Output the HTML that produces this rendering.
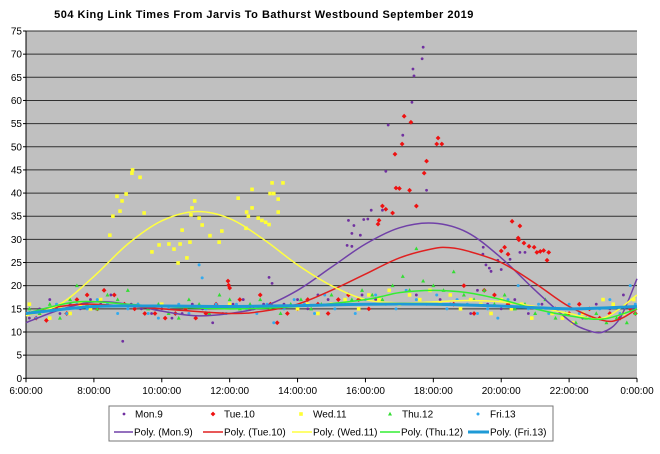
<!DOCTYPE html>
<html><head><meta charset="utf-8">
<style>
html,body{margin:0;padding:0;background:#fff;}
body{width:660px;height:449px;overflow:hidden;font-family:"Liberation Sans",Arial,sans-serif;}
svg text{font-family:"Liberation Sans",Arial,sans-serif;}
</style></head>
<body>
<svg id="chart" width="660" height="449" xmlns="http://www.w3.org/2000/svg">
<text x="264" y="18" text-anchor="middle" font-size="11" font-weight="bold" fill="#000" letter-spacing="0.5">504 King Link Times From Jarvis To Bathurst Westbound September 2019</text>
<rect x="26" y="31" width="611" height="347" fill="#c0c0c0"/>
<g id="grid"></g>
<g id="yaxis"></g>
<g id="xaxis"></g>
<g id="points"></g>
<g id="trends"></g>
<g>
<rect x="109" y="406" width="444" height="35" fill="#fff" stroke="#777" stroke-width="1"/>
<g id="legend"></g>
</g>
</svg>
<script>
const yTicks=[0,5,10,15,20,25,30,35,40,45,50,55,60,65,70,75];
const xTicks=[6,8,10,12,14,16,18,20,22,24];
const xTickLabels=["6:00:00","8:00:00","10:00:00","12:00:00","14:00:00","16:00:00","18:00:00","20:00:00","22:00:00","0:00:00"];
const seriesNames=["Mon.9","Tue.10","Wed.11","Thu.12","Fri.13"];

const monPts=[[6.1,13],[6.4,15],[6.7,17],[7.0,14],[7.3,16],[7.6,15],[7.9,17],[8.2,16],[8.5,18],[8.85,8],[9.1,16],[9.4,15],[9.7,14],[10.0,15],[10.3,13],[10.6,14],[10.9,16],[11.2,15],[11.5,12],[11.8,14],[12.1,16],[12.4,17],[12.7,15],[13.0,16],[13.16,21.8],[13.25,20.5],[13.6,16],[14.0,17],[14.3,15],[14.6,18],[14.9,17],[15.2,16],[15.9,18],[16.3,17],[17.5,18],[18.2,17],[18.5,16],[18.8,15],[19.1,14],[19.3,19],[19.6,16],[20.0,15],[20.4,17],[20.8,14],[21.2,16],[21.6,15],[22.0,14],[22.4,13],[22.8,16],[23.2,15],[23.6,18],[23.9,15],
[17.7,71.5],[17.67,69],[17.4,66.8],[17.43,65.3],[17.37,59.6],[16.67,54.7],[17.1,52.5],[16.6,44.7],[17.8,40.6],[16.17,36.3],[16.5,36.3],[15.5,34.1],[15.66,33],[16.07,34.4],[15.95,34.3],[15.6,31.3],[15.85,30.9],[15.46,28.7],[15.6,28.5],[19.47,28.3],[19.46,26.8],[19.55,24.5],[19.65,23.8],[19.7,23.1],[19.9,25.5],[20.0,23.5],[20.26,25.7],[20.55,27.2],[20.7,27.2]];
const tuePts=[[6.1,14],[6.3,13],[6.6,12.5],[6.9,15],[7.2,14],[7.5,17],[7.8,18],[8.1,15],[8.3,19],[8.6,18],[8.9,16],[9.2,15],[9.5,14],[9.8,14],[10.1,13],[10.4,14],[10.7,15],[11.0,13],[11.3,14],[11.6,16],[11.95,21],[11.97,20.1],[12.0,19.5],[12.3,17],[12.6,15],[12.9,18],[13.2,16],[13.4,12],[13.7,14],[14.0,15],[14.3,17],[14.6,16],[14.9,14],[15.2,17],[15.5,18],[15.8,17],[16.1,15],[18.6,16],[18.9,20],[19.2,14],[19.5,19],[19.8,18],[20.2,16],[21.6,15],[22.0,14],[22.3,16],[22.6,15],[22.9,13],[23.2,14],[23.5,13],[23.8,15],[23.95,14],
[17.14,56.6],[17.34,55.3],[18.14,51.9],[18.1,50.6],[18.25,50.6],[17.08,50.6],[16.87,48.4],[17.8,46.9],[17.73,44.3],[16.9,41.1],[17.0,41],[17.3,40.6],[17.5,37.2],[16.5,37.2],[16.6,36.5],[16.8,35.7],[16.4,34.1],[16.37,33.3],[20.32,33.9],[20.55,32.9],[20.5,30.3],[20.52,29.9],[20.67,29.2],[20.82,28.5],[20.97,28.3],[21.05,27.2],[21.15,27.4],[21.25,27.6],[21.4,27.2],[21.35,25.5],[20.1,28.3],[20.0,27.5],[20.2,26.8]];
const wedPts=[[6.1,16],[6.4,14],[6.7,13],[7.0,15],[7.3,14],[7.6,16],[7.9,15],[8.2,17],[10.0,16],[12.0,16],[14.0,15],[14.3,16],[14.6,14],[15.0,16],[15.4,17],[15.8,15],[16.1,18],[16.4,17],[16.7,19],[17.0,16],[17.3,18],[17.6,17],[17.9,19],[18.2,16],[18.5,18],[18.8,15],[19.1,17],[19.4,16],[19.7,14],[20.0,17],[20.3,15],[20.6,16],[20.9,13],[21.2,15],[21.5,14],[21.8,13],[22.1,12],[22.4,14],[22.7,13],[23.0,17],[23.3,16],[23.6,14],[23.9,17],
[8.47,30.9],[8.56,35],[8.68,39.3],[8.83,38.3],[8.77,36.1],[8.95,39.8],[9.12,44.3],[9.14,45],[9.36,43.4],[9.48,35.7],[9.71,27.3],[9.92,28.8],[10.21,29],[10.36,27.9],[10.48,24.9],[10.54,29],[10.6,32],[10.74,26],[10.83,29.4],[10.89,36.8],[10.97,38.3],[10.86,35.3],[11.1,34.6],[11.19,33.1],[11.42,30.8],[11.69,29.4],[11.77,31.8],[12.25,38.9],[12.5,35.9],[12.55,35],[12.66,36.8],[12.66,40.8],[12.48,32.4],[12.84,34.6],[12.95,34.1],[13.06,33.7],[13.16,33.2],[13.19,39.9],[13.3,39.9],[13.25,42.2],[13.57,42.2],[13.43,38.7],[13.43,35.9]];
const thuPts=[[6.1,15],[6.4,14],[6.7,16],[7.0,13],[7.3,17],[7.5,20],[7.8,16],[8.1,15],[8.4,18],[8.7,17],[9.0,19],[9.3,16],[9.6,15],[9.9,16],[10.2,14],[10.5,13],[10.8,17],[11.1,16],[11.4,14],[11.7,18],[12.0,17],[12.3,15],[12.6,16],[12.9,17],[13.2,15],[13.5,14],[13.8,16],[14.1,17],[14.4,15],[14.7,16],[15.0,18],[15.3,16],[15.6,17],[15.9,19],[16.2,18],[16.5,17],[16.8,20],[17.1,22],[17.3,19],[17.5,28],[17.7,21],[18.0,20],[18.3,19],[18.6,23],[18.9,18],[19.2,17],[19.5,19],[19.8,16],[20.1,18],[20.4,15],[20.7,16],[21.0,14],[21.3,17],[21.6,13],[21.9,14],[22.2,12],[22.5,13],[22.8,14],[23.1,12],[23.4,13],[23.7,12],[23.95,14]];
const friPts=[[6.1,14],[6.3,13],[6.6,15],[6.9,16],[7.2,14],[7.5,16],[7.8,15],[8.1,17],[8.4,16],[8.7,14],[9.0,15],[9.3,16],[9.6,14],[9.9,13],[10.2,15],[10.5,16],[10.8,14],[11.1,24.5],[11.19,21.7],[11.3,15],[11.6,16],[11.9,14],[12.2,16],[12.5,15],[12.8,14],[13.1,16],[13.3,12],[13.6,15],[13.9,17],[14.2,16],[14.5,14],[14.8,18],[15.1,15],[15.4,16],[15.7,14],[16.0,17],[16.3,18],[16.6,16],[16.9,15],[17.2,19],[17.5,17],[17.8,16],[18.1,18],[18.4,15],[18.7,17],[19.0,16],[19.3,14],[19.6,15],[19.9,13],[20.2,17],[20.5,20],[20.8,15],[21.1,16],[21.4,14],[21.7,15],[22.0,16],[22.3,14],[22.6,13],[22.9,15],[23.2,17],[23.5,14],[23.8,20],[23.95,16]];

const monTrend=[[6,12],[7,14.8],[8,16.5],[9,16],[10,14.5],[11,13.5],[12,14],[13,15.5],[14,19],[15,24],[16,29],[17,32.5],[18,33.5],[19,31.5],[20,26],[21,19],[22,12.5],[22.5,10.5],[23,10],[23.5,13],[24,21.5]];
const tueTrend=[[6,14],[7,15.5],[8,16],[10,15],[12,14],[13,14.5],[14,16],[15,19],[16,22.5],[17,26],[18,28],[18.5,28.2],[19,27.5],[20,25],[21,20.5],[22,15.5],[23,12.5],[23.5,12.8],[24,15]];
const wedTrend=[[6,13.5],[7,16],[8,22],[9,29],[10,34],[11,36],[12,34.5],[13,30],[14,24.5],[15,20],[16,17],[17,16.3],[18,16.5],[19,16.8],[20,16.5],[21,15.5],[22,14],[23,13],[24,18]];
const thuTrend=[[6,14],[7.5,16.5],[9,16],[10,15.5],[12,15],[14,15.5],[16,17],[17,18.5],[18,19],[19,18.5],[20,17],[21,15],[22,13.5],[23,12.8],[24,15]];
const friTrend=[[6,14],[8,15.5],[10,15.6],[12,15.5],[14,15.7],[16,16],[18,16],[20,15.6],[22,15],[24,15.5]];

const NS="http://www.w3.org/2000/svg";
const X0=26,X1=637,Y0=378.3,YTOP=31;
function xs(h){return X0+(h-6)/18*(X1-X0);}
function ys(v){return Y0-(v/75)*(Y0-YTOP);}
function mk(tag,attrs,parent){const e=document.createElementNS(NS,tag);for(const k in attrs)e.setAttribute(k,attrs[k]);parent.appendChild(e);return e;}

const grid=document.getElementById('grid'),yax=document.getElementById('yaxis'),xax=document.getElementById('xaxis');
yTicks.forEach(t=>{
  if(t>0){const l=mk('line',{x1:X0,x2:X1,y1:ys(t),y2:ys(t),stroke:'#303030','stroke-width':1},grid);
  
  }
  const tx=mk('text',{x:22,y:ys(t)+3.5,'text-anchor':'end','font-size':10,fill:'#000'},yax);
  tx.textContent=t;
  
  
  mk('line',{x1:X0-3,x2:X0,y1:ys(t),y2:ys(t),stroke:'#000'},yax);
});
mk('line',{x1:X0,x2:X0,y1:YTOP,y2:Y0,stroke:'#000'},yax);
mk('line',{x1:X0,x2:X1,y1:Y0,y2:Y0,stroke:'#000'},xax);
xTicks.forEach((t,i)=>{
  mk('line',{x1:xs(t),x2:xs(t),y1:Y0,y2:Y0+4,stroke:'#000'},xax);
  const tx=mk('text',{x:xs(t),y:394,'text-anchor':'middle','font-size':10,fill:'#000'},xax);
  tx.textContent=xTickLabels[i];
  
  
});

const colors=['#7030a0','#ee1111','#ffff33','#33dd33','#33aaee'];
const trendColors=['#7040a8','#e02020','#ffff40','#33ee33','#1e9ad6'];
const trendW=[1.5,1.5,1.5,1.5,3];
function marker(i,x,y,parent){
  let e;
  if(i===0)e=mk('circle',{cx:x,cy:y,r:1.4,fill:colors[0]},parent);
  else if(i===1)e=mk('polygon',{points:`${x},${y-2.4} ${x+2.4},${y} ${x},${y+2.4} ${x-2.4},${y}`,fill:colors[1]},parent);
  else if(i===2)e=mk('rect',{x:x-1.8,y:y-1.8,width:3.6,height:3.6,fill:colors[2]},parent);
  else if(i===3)e=mk('polygon',{points:`${x},${y-2.2} ${x+2},${y+1.5} ${x-2},${y+1.5}`,fill:colors[3]},parent);
  else e=mk('circle',{cx:x,cy:y,r:1.5,fill:colors[4]},parent);
  return e;
}
const pg=document.getElementById('points');
[monPts,tuePts,wedPts,thuPts,friPts].forEach((arr,i)=>{
  arr.forEach(p=>{
    const e=marker(i,xs(p[0]),ys(p[1]),pg);
    
    
  });
});
function smooth(pts){
  const P=pts.map(p=>[xs(p[0]),ys(p[1])]);
  let d=`M${P[0][0]},${P[0][1]}`;
  for(let i=0;i<P.length-1;i++){
    const p0=P[i-1]||P[i],p1=P[i],p2=P[i+1],p3=P[i+2]||P[i+1];
    const c1=[p1[0]+(p2[0]-p0[0])/6,p1[1]+(p2[1]-p0[1])/6];
    const c2=[p2[0]-(p3[0]-p1[0])/6,p2[1]-(p3[1]-p1[1])/6];
    d+=` C${c1[0]},${c1[1]} ${c2[0]},${c2[1]} ${p2[0]},${p2[1]}`;
  }
  return d;
}
const tg=document.getElementById('trends');
[monTrend,tueTrend,wedTrend,thuTrend,friTrend].forEach((arr,i)=>{
  const e=mk('path',{d:smooth(arr),fill:'none',stroke:trendColors[i],'stroke-width':trendW[i]},tg);
  
  
});
// legend
const lg=document.getElementById('legend');
const mX=[124,213,301,390,478],tX=[135,224,313,402,490];
const lX1=[114,203,292,380,468],lX2=[133,223,312,400,489];
seriesNames.forEach((n,i)=>{
  const m=marker(i,mX[i],414,lg);
  
  
  const t=mk('text',{x:tX[i],y:417.5,'font-size':10,fill:'#000'},lg);
  t.textContent=n;
  
  
  const l=mk('line',{x1:lX1[i],x2:lX2[i],y1:432,y2:432,stroke:trendColors[i],'stroke-width':trendW[i]},lg);
  
  
  const t2=mk('text',{x:lX2[i]+1,y:435.5,'font-size':10,fill:'#000'},lg);
  t2.textContent='Poly. ('+n+')';
  
  
});
</script>
</body></html>
